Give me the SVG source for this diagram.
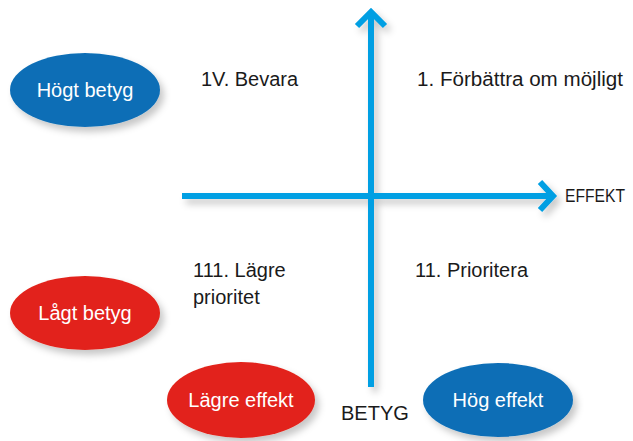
<svg xmlns="http://www.w3.org/2000/svg" width="633" height="441" viewBox="0 0 633 441">
  <defs>
    <filter id="sh" x="-20%" y="-30%" width="150%" height="170%">
      <feDropShadow dx="4" dy="5" stdDeviation="3.5" flood-color="#000" flood-opacity="0.22"/>
    </filter>
  </defs>
  <style>
    .blue { fill: #0a6eb6; }
    .red { fill: #e2231a; }
    .lbl { font-family: "Liberation Sans", Arial, sans-serif; font-size: 20px; fill: #ffffff; text-anchor: middle; }
    .txt { font-family: "Liberation Sans", Arial, sans-serif; font-size: 20px; fill: #1a1a1a; }
    .axis { fill: none; stroke: #009fe3; stroke-width: 6; }
    .head { fill: none; stroke: #009fe3; stroke-width: 6; stroke-linejoin: miter; stroke-linecap: butt; }
  </style>
  <rect width="633" height="441" fill="#ffffff"/>

  <g id="connectors" filter="url(#sh)">
    <line class="axis" x1="182" y1="196" x2="550" y2="196"/>
    <polyline class="head" points="540,182 553,196 540,210"/>
    <line class="axis" x1="371" y1="16" x2="371" y2="387"/>
    <polyline class="head" points="357,26 371,12 385,26"/>
  </g>

  <g id="hogt-betyg">
    <ellipse class="blue" cx="85" cy="90" rx="75" ry="37" filter="url(#sh)"/>
    <text class="lbl" x="85" y="97">Högt betyg</text>
  </g>
  <g id="lagt-betyg">
    <ellipse class="red" cx="85" cy="313" rx="75" ry="37" filter="url(#sh)"/>
    <text class="lbl" x="85" y="320">Lågt betyg</text>
  </g>
  <g id="lagre-effekt">
    <ellipse class="red" cx="241" cy="400" rx="74" ry="38" filter="url(#sh)"/>
    <text class="lbl" x="241" y="407">Lägre effekt</text>
  </g>
  <g id="hog-effekt">
    <ellipse class="blue" cx="498" cy="400" rx="75" ry="37" filter="url(#sh)"/>
    <text class="lbl" x="498" y="407">Hög effekt</text>
  </g>

  <g id="q4">
    <text class="txt" x="201" y="86">1V. Bevara</text>
  </g>
  <g id="q1">
    <text class="txt" x="417" y="86" textLength="206" lengthAdjust="spacingAndGlyphs">1. Förbättra om möjligt</text>
  </g>
  <g id="q3">
    <text class="txt" x="193" y="277">111. Lägre</text>
    <text class="txt" x="193" y="304">prioritet</text>
  </g>
  <g id="q2">
    <text class="txt" x="415" y="277">11. Prioritera</text>
  </g>
  <g id="effekt-label">
    <text class="txt" x="565" y="202" style="font-size:18px" textLength="60" lengthAdjust="spacingAndGlyphs">EFFEKT</text>
  </g>
  <g id="betyg-label">
    <text class="txt" x="341" y="420">BETYG</text>
  </g>
</svg>
